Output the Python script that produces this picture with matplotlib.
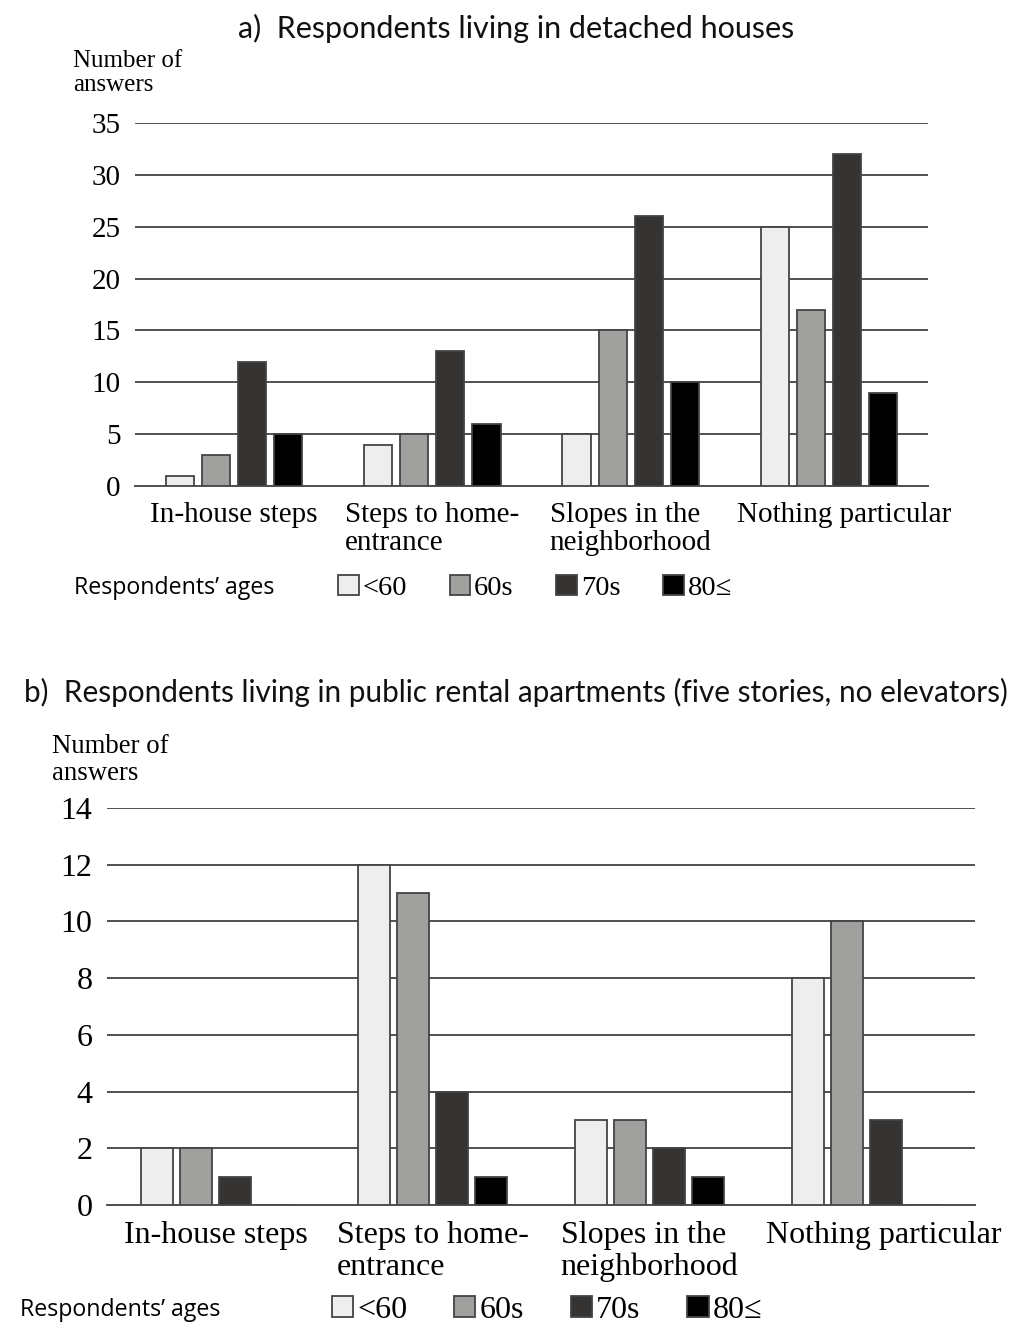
"""
Barriers reported by respondents, by age group (two housing types).
"""

import matplotlib.pyplot as plt
import matplotlib.transforms as mtransforms
import numpy as np

plt.rcParams["font.family"] = ["Liberation Serif", "DejaVu Serif"]

categories = ["In-house steps", "Steps to home-\nentrance", "Slopes in the\nneighborhood", "Nothing particular"]
age_groups = ["<60", "60s", "70s", "80\u2264"]
age_colors = ["#eeeeee", "#a0a09f", "#353432", "#000000"]

# a) detached houses
detached_lt60 = [1, 4, 5, 25]
detached_60s = [3, 5, 15, 17]
detached_70s = [12, 13, 26, 32]
detached_80 = [5, 6, 10, 9]

# b) public rental apartments
rental_lt60 = [2, 12, 3, 8]
rental_60s = [2, 11, 3, 10]
rental_70s = [1, 4, 2, 3]
rental_80 = [0, 1, 1, 0]

TITLE_FONT = dict(family=["Lato", "DejaVu Sans"], weight="normal", color="#111111")
SANS_FONT = dict(family=["Open Sans", "DejaVu Sans"])


def draw_panel(fig, rect, series, ymax, ystep, width, step, tick_size, label_size, linesp, last_shift):
    ax = fig.add_axes(rect)
    x = np.arange(len(categories))
    bars = []
    for i, (vals, color) in enumerate(zip(series, age_colors)):
        offset = (i - 1.5) * step
        b = ax.bar(x + offset, vals, width=width, color=color, edgecolor="#444444", linewidth=1.3, zorder=3)
        bars.append(b)

    ax.set_xlim(-0.5, len(categories) - 0.5)
    ax.set_ylim(0, ymax)
    ax.set_yticks(np.arange(0, ymax + 1, ystep))
    ax.yaxis.grid(True, color="#505050", linewidth=1.4, zorder=0)
    ax.set_axisbelow(True)
    for side in ["top", "right", "left"]:
        ax.spines[side].set_visible(False)
    ax.spines["bottom"].set_color("#505050")
    ax.spines["bottom"].set_linewidth(1.4)
    ax.tick_params(axis="both", length=0)
    ax.tick_params(axis="y", labelsize=tick_size, pad=10.5)
    ax.set_xticks(x)
    ax.set_xticklabels(categories, fontsize=label_size, multialignment="left", linespacing=linesp)
    ax.tick_params(axis="x", pad=11.5)

    # the last label sits a little to the right of its group in the original
    last = ax.get_xticklabels()[-1]
    last.set_transform(last.get_transform() + mtransforms.ScaledTranslation(last_shift / 100, 0, fig.dpi_scale_trans))
    return ax, bars


fig = plt.figure(figsize=(10.12, 13.4), dpi=100)

# Panel a
ax_a, bars_a = draw_panel(
    fig, [135 / 1012, 1 - 486 / 1340, 793 / 1012, 363 / 1340],
    [detached_lt60, detached_60s, detached_70s, detached_80],
    35, 5, 0.142, 0.182, 21, 21, 1.1, 15,
)
fig.text(516 / 1012, 1 - 28 / 1340, "a)  Respondents living in detached houses",
         ha="center", va="center", fontsize=22, **TITLE_FONT)
fig.text(73 / 1012, 1 - 73 / 1340, "Number of\nanswers", ha="left", va="center",
         fontsize=18, linespacing=1.15)
fig.text(74 / 1012, 1 - 588 / 1340, "Respondents\u2019 ages", ha="left", va="center",
         fontsize=16.7, **SANS_FONT)
fig.legend(bars_a, age_groups, loc="center left", bbox_to_anchor=(338 / 1012, 1 - 588 / 1340),
           ncol=4, frameon=False, fontsize=20.5, handlelength=0.72, handleheight=0.72,
           handletextpad=0.14, columnspacing=1.5, borderpad=0, borderaxespad=0)

# Panel b
ax_b, bars_b = draw_panel(
    fig, [107 / 1012, 1 - 1205 / 1340, 868 / 1012, 397 / 1340],
    [rental_lt60, rental_60s, rental_70s, rental_80],
    14, 2, 0.147, 0.18, 23, 23, 1.12, 17,
)
fig.text(516 / 1012, 1 - 692 / 1340,
         "b)  Respondents living in public rental apartments (five stories, no elevators)",
         ha="center", va="center", fontsize=21.4, **TITLE_FONT)
fig.text(52 / 1012, 1 - 760 / 1340, "Number of\nanswers", ha="left", va="center",
         fontsize=19.3, linespacing=1.15)
fig.text(20 / 1012, 1 - 1310 / 1340, "Respondents\u2019 ages", ha="left", va="center",
         fontsize=16.7, **SANS_FONT)
fig.legend(bars_b, age_groups, loc="center left", bbox_to_anchor=(332 / 1012, 1 - 1310 / 1340),
           ncol=4, frameon=False, fontsize=23, handlelength=0.66, handleheight=0.66,
           handletextpad=0.12, columnspacing=1.48, borderpad=0, borderaxespad=0)

fig.savefig("out.png", dpi=100)
